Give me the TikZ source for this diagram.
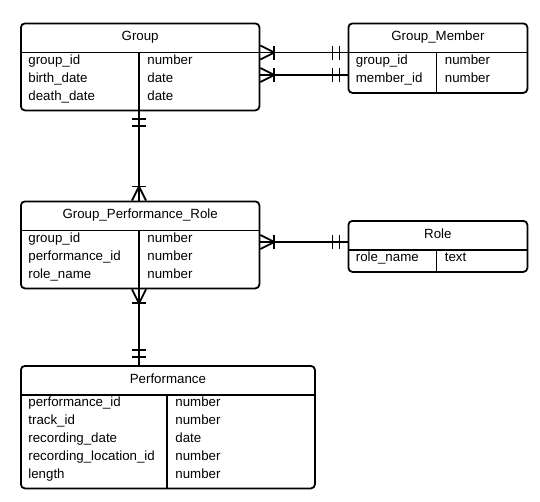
\documentclass[tikz,border=0pt]{standalone}
\usepackage{fontspec}
\setmainfont{Liberation Sans}
\usetikzlibrary{matrix, calc, decorations.markings}

\tikzset{
  entity/.style={draw, rounded corners=4pt, inner sep=0pt, anchor=north west},
  title/.style={inner sep=0pt, text height=9.6pt, text depth=2.8pt},
  attrs/.style={matrix of nodes, inner sep=0pt, anchor=north west,
    nodes={inner xsep=7.5pt, inner ysep=2.2pt, text height=8.7pt, text depth=4.8pt, align=left}},
  many start/.style={postaction={decorate, decoration={markings,
    mark=at position 14pt with {\draw (-14pt,7pt) -- (0,0) -- (-14pt,-7pt); \draw (0,-7pt) -- (0,7pt);}}}},
  one end/.style={postaction={decorate, decoration={markings,
    mark=at position -8pt with {\draw (0,-7pt) -- (0,7pt);},
    mark=at position -15pt with {\draw (0,-7pt) -- (0,7pt);}}}},
}

\begin{document}
\begin{tikzpicture}[x=1pt, y=-1pt, line width=1.8pt, font=\fontsize{13.3}{16}\selectfont]
    \useasboundingbox (0,0) rectangle (540,501);

    % Group
    \node[entity, minimum width=238.5pt, minimum height=87pt] (grp) at (20,22.5) {};
    \node[title] (grp-t) at ($(grp.north)+(0,15)$) {Group};
    \matrix (grp-m) [attrs, column 1/.style={nodes={text width=104pt}}, column 2/.style={nodes={text width=104.5pt}}]
      at ($(grp.north west)+(0,30)$)
    {
      group\_id & number \\
      birth\_date & date \\
      death\_date & date \\
    };
    \draw (grp-m.north -| grp.west) -- (grp-m.north -| grp.east);
    \draw (grp-m-1-2.north west) -- (grp-m-1-2.north west |- grp.south);

    % Group_Member
    \node[entity, minimum width=179pt, minimum height=69.5pt] (gm) at (347.5,22.5) {};
    \node[title] (gm-t) at ($(gm.north)+(0,15)$) {Group\_Member};
    \matrix (gm-m) [attrs, column 1/.style={nodes={text width=74pt}}, column 2/.style={nodes={text width=75pt}}]
      at ($(gm.north west)+(0,30)$)
    {
      group\_id & number \\
      member\_id & number \\
    };
    \draw (gm-m.north -| gm.west) -- (gm-m.north -| gm.east);
    \draw (gm-m-1-2.north west) -- (gm-m-1-2.north west |- gm.south);
    \coordinate (gm-b) at ($(gm.north west)+(0,52.5)$);

    % Group_Performance_Role
    \node[entity, minimum width=238.5pt, minimum height=87pt] (gpr) at (20,200.5) {};
    \node[title] (gpr-t) at ($(gpr.north)+(0,15)$) {Group\_Performance\_Role};
    \matrix (gpr-m) [attrs, column 1/.style={nodes={text width=104pt}}, column 2/.style={nodes={text width=104.5pt}}]
      at ($(gpr.north west)+(0,30)$)
    {
      group\_id & number \\
      performance\_id & number \\
      role\_name & number \\
    };
    \draw (gpr-m.north -| gpr.west) -- (gpr-m.north -| gpr.east);
    \draw (gpr-m-1-2.north west) -- (gpr-m-1-2.north west |- gpr.south);

    % Role
    \node[entity, minimum width=179pt, minimum height=51pt] (role) at (347.5,220) {};
    \node[title] (role-t) at ($(role.north)+(0,15)$) {Role};
    \matrix (role-m) [attrs, column 1/.style={nodes={text width=74pt}}, column 2/.style={nodes={text width=75pt}}]
      at ($(role.north west)+(0,30)$)
    {
      role\_name & text \\
    };
    \draw (role-m.north -| role.west) -- (role-m.north -| role.east);
    \draw (role-m-1-2.north west) -- (role-m-1-2.north west |- role.south);
    \coordinate (role-a) at ($(role.north west)+(0,22)$);

    % Performance
    \node[entity, minimum width=294pt, minimum height=122.5pt] (perf) at (20,365) {};
    \node[title] (perf-t) at ($(perf.north)+(0,15)$) {Performance};
    \matrix (perf-m) [attrs, column 1/.style={nodes={text width=132pt}}, column 2/.style={nodes={text width=132pt}}]
      at ($(perf.north west)+(0,30)$)
    {
      performance\_id & number \\
      track\_id & number \\
      recording\_date & date \\
      recording\_location\_id & number \\
      length & number \\
    };
    \draw (perf-m.north -| perf.west) -- (perf-m.north -| perf.east);
    \draw (perf-m-1-2.north west) -- (perf-m-1-2.north west |- perf.south);

    % relationships
    \draw[many start, one end] (grp.east |- gm-m.north) -- (gm.west |- gm-m.north);
    \draw[many start, one end] (grp.east |- gm-b) -- (gm-b);
    \draw[many start, one end] (gpr.north -| gpr-m-1-2.west) -- (grp.south -| grp-m-1-2.west);
    \draw[many start, one end] (gpr.east |- role-a) -- (role-a);
    \draw[many start, one end] (gpr.south -| gpr-m-1-2.west) -- (perf.north -| gpr-m-1-2.west);
\end{tikzpicture}
\end{document}
